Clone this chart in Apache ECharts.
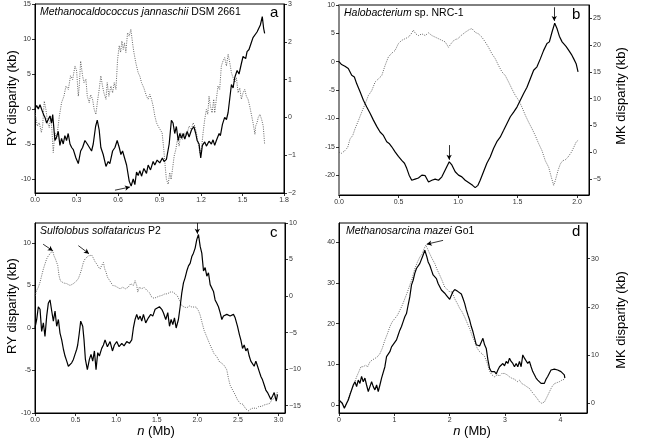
<!DOCTYPE html>
<html><head><meta charset="utf-8">
<script src="https://cdn.jsdelivr.net/npm/echarts@6/dist/echarts.min.js"></script>
<style>html,body{margin:0;padding:0;background:#fff}#c{width:648px;height:445px}</style>
</head><body><div id="c"></div>
<script>
// ---- Panel a: Methanocaldococcus jannaschii (RY left axis, MK right axis)
const aRY = [[0,0],[0.012,0.5],[0.024,0],[0.036,0.6],[0.06,-0.7],[0.072,-1.2],[0.084,-2],[0.096,-1.5],[0.108,-1],[0.12,-2],[0.128,-0.8],[0.144,-4.5],[0.156,-4],[0.168,-3.2],[0.18,-5.2],[0.192,-4.2],[0.204,-5],[0.216,-3.8],[0.228,-4.5],[0.24,-3.5],[0.253,-5],[0.265,-5.5],[0.277,-5.8],[0.296,-7],[0.313,-7.8],[0.33,-6],[0.344,-5.5],[0.361,-4.5],[0.378,-5],[0.392,-4.8],[0.409,-6],[0.421,-5],[0.438,-2.5],[0.45,-1.6],[0.464,-3],[0.476,-5.5],[0.493,-6.5],[0.513,-8.2],[0.529,-7.5],[0.541,-7.8],[0.561,-6],[0.578,-5.5],[0.594,-4.5],[0.609,-5.5],[0.621,-6.5],[0.633,-6],[0.645,-5.8],[0.662,-8],[0.681,-10.3],[0.695,-11],[0.71,-10],[0.722,-10.8],[0.734,-9],[0.746,-9.5],[0.758,-8.8],[0.77,-9.6],[0.787,-8.5],[0.806,-9.2],[0.818,-8],[0.835,-8.7],[0.854,-7.5],[0.866,-8],[0.883,-7.3],[0.902,-7.7],[0.921,-7],[0.933,-7.5],[0.95,-7.2],[0.97,-5],[0.986,-1.6],[0.998,-2],[1.01,-3.5],[1.022,-2.5],[1.035,-4.5],[1.047,-3.5],[1.059,-4.2],[1.071,-3.5],[1.083,-4.3],[1.1,-3.2],[1.114,-4],[1.131,-3],[1.148,-2.5],[1.162,-3.5],[1.172,-4.5],[1.186,-5],[1.198,-7],[1.21,-5.2],[1.227,-4.7],[1.239,-5.3],[1.258,-4.6],[1.275,-5],[1.287,-4.4],[1.299,-5.2],[1.311,-4.5],[1.331,-3.5],[1.34,-3.8],[1.355,-2.2],[1.371,-1.2],[1.384,-1.5],[1.396,-0.5],[1.408,1.5],[1.42,3.5],[1.432,3],[1.444,4.5],[1.461,5.5],[1.475,5],[1.492,6.5],[1.504,7.5],[1.523,7.2],[1.533,8.2],[1.547,8.5],[1.564,9.5],[1.576,10.2],[1.588,10],[1.605,11],[1.619,10.8],[1.629,12],[1.643,13.2],[1.653,11.5],[1.66,10.8]];
const aMK = [[0,0.12],[0.017,-0.23],[0.031,-0.14],[0.046,-0.4],[0.055,-0.23],[0.067,0.43],[0.079,0.21],[0.091,-0.14],[0.103,-0.27],[0.113,0.03],[0.122,-0.32],[0.132,-0.93],[0.144,-0.4],[0.156,-0.58],[0.176,0.03],[0.192,0.39],[0.209,0.56],[0.224,0.83],[0.241,0.74],[0.257,1.1],[0.272,1.0],[0.289,1.36],[0.301,1.23],[0.313,0.56],[0.32,0.83],[0.33,1.49],[0.344,1.1],[0.354,0.92],[0.368,1.01],[0.378,0.56],[0.392,0.39],[0.402,0.6],[0.416,0.48],[0.428,0.21],[0.44,0.08],[0.452,0.43],[0.464,0.74],[0.476,1.1],[0.488,0.83],[0.498,0.65],[0.513,0.48],[0.522,0.92],[0.534,0.56],[0.549,0.83],[0.561,0.65],[0.573,0.92],[0.585,0.74],[0.597,1.53],[0.609,1.9],[0.619,1.72],[0.628,2.02],[0.638,1.8],[0.647,1.97],[0.657,1.72],[0.669,2.24],[0.681,2.15],[0.693,2.33],[0.705,1.97],[0.715,1.72],[0.729,1.44],[0.746,1.18],[0.758,1.09],[0.77,0.92],[0.787,0.78],[0.806,0.56],[0.818,0.48],[0.83,0.61],[0.842,0.48],[0.854,0.3],[0.866,0.04],[0.878,-0.14],[0.89,-0.23],[0.902,-0.27],[0.919,-0.41],[0.931,-0.85],[0.941,-1.29],[0.95,-1.64],[0.963,-1.77],[0.974,-1.46],[0.984,-1.64],[0.994,-1.37],[1.006,-1.02],[1.018,-0.85],[1.03,-0.58],[1.042,-0.76],[1.054,-0.41],[1.066,-0.58],[1.083,-0.41],[1.095,-0.49],[1.114,-0.23],[1.131,-0.32],[1.143,-0.14],[1.155,-0.23],[1.167,-0.41],[1.179,-0.67],[1.191,-0.93],[1.203,-0.85],[1.215,-0.41],[1.227,-0.05],[1.239,0.21],[1.249,0.08],[1.258,0.56],[1.268,0.3],[1.28,0.12],[1.292,0.48],[1.299,0.12],[1.311,0.48],[1.323,0.83],[1.335,0.74],[1.347,1.36],[1.359,1.49],[1.371,1.58],[1.384,1.36],[1.396,1.67],[1.408,1.45],[1.42,1.18],[1.432,1.14],[1.444,0.92],[1.456,1.05],[1.468,0.65],[1.48,0.78],[1.492,0.48],[1.504,0.65],[1.516,0.74],[1.528,0.56],[1.54,0.48],[1.552,0.3],[1.564,0.08],[1.576,-0.14],[1.59,-0.45],[1.595,-0.23],[1.605,-0.14],[1.614,0],[1.626,0.08],[1.638,-0.05],[1.65,-0.23],[1.66,-0.71]];
// ---- Panel b: Halobacterium sp. NRC-1
const bRY = [[0,0],[0.022,-0.5],[0.05,-0.8],[0.078,-1.2],[0.107,-2.4],[0.129,-2.7],[0.149,-3.9],[0.177,-5.3],[0.205,-6.8],[0.233,-8],[0.261,-9.1],[0.289,-10.3],[0.317,-11.4],[0.345,-12.4],[0.373,-13],[0.401,-14.1],[0.421,-14.4],[0.443,-15],[0.471,-15.9],[0.499,-16.7],[0.527,-17.4],[0.55,-17.9],[0.569,-18.8],[0.589,-20],[0.611,-20.9],[0.639,-20.7],[0.667,-20.5],[0.696,-20],[0.724,-20.1],[0.752,-21.2],[0.78,-20.9],[0.808,-20.7],[0.836,-20.9],[0.864,-20.3],[0.892,-19.1],[0.926,-17.65],[0.948,-18.2],[0.976,-19.4],[1.004,-20],[1.032,-20.3],[1.06,-20.9],[1.088,-21.3],[1.122,-21.8],[1.144,-22.2],[1.167,-21.8],[1.186,-20.9],[1.214,-19.4],[1.242,-17.9],[1.27,-16.8],[1.298,-15.3],[1.326,-14.1],[1.354,-13.3],[1.383,-12.1],[1.411,-10.9],[1.439,-9.7],[1.467,-8.9],[1.495,-8],[1.523,-6.8],[1.551,-5.6],[1.579,-4.5],[1.607,-3],[1.635,-1.5],[1.663,-0.9],[1.691,0.5],[1.719,2],[1.747,3.2],[1.767,3.5],[1.789,5.2],[1.812,6.8],[1.832,5.8],[1.851,4.5],[1.874,3.5],[1.888,3.6],[1.907,2.7],[1.93,2],[1.952,1.3],[1.972,0.5],[1.992,-0.35],[2.008,-1.8]];
const bMK = [[0,0],[0.022,-0.2],[0.05,0.3],[0.073,0.9],[0.093,2.5],[0.115,3.1],[0.135,4.4],[0.163,5.9],[0.191,7.5],[0.219,9],[0.247,10.6],[0.275,11.5],[0.303,13.1],[0.331,13.7],[0.359,14.3],[0.387,16.2],[0.415,17.8],[0.443,18.5],[0.471,19],[0.499,20.3],[0.527,20.9],[0.555,21.2],[0.583,21.5],[0.606,22.1],[0.625,22.8],[0.645,22.1],[0.667,21.8],[0.696,22.1],[0.724,21.8],[0.752,22.3],[0.78,21.8],[0.808,21.5],[0.836,21.2],[0.864,20.9],[0.892,20.6],[0.92,19.6],[0.942,20.3],[0.97,21],[0.998,21.2],[1.026,21.8],[1.06,22.4],[1.094,22.9],[1.116,23.1],[1.144,22.4],[1.172,22.1],[1.2,21.5],[1.228,20.6],[1.256,19.6],[1.284,18.4],[1.312,17.5],[1.34,16.2],[1.369,15],[1.397,14.3],[1.425,13.1],[1.453,11.8],[1.481,10.6],[1.509,9.7],[1.537,8.4],[1.565,6.9],[1.593,5.6],[1.621,4.4],[1.649,3.1],[1.677,1.6],[1.705,0.3],[1.733,-1.6],[1.761,-2.8],[1.784,-4.7],[1.803,-6.2],[1.817,-5.3],[1.84,-3.4],[1.859,-2.2],[1.879,-1.6],[1.902,-1.4],[1.924,-0.9],[1.952,0],[1.972,0.9],[1.992,1.9],[2.008,2.2]];
// ---- Panel c: Sulfolobus solfataricus P2
const cRY = [[0,0],[0.021,1],[0.041,2.5],[0.062,2.2],[0.082,-0.4],[0.103,0.6],[0.123,-1],[0.144,1.4],[0.164,2.9],[0.185,3.3],[0.206,2],[0.226,0.8],[0.247,2],[0.267,0.2],[0.288,1],[0.308,-0.6],[0.329,-1.4],[0.35,-2.5],[0.37,-3.3],[0.391,-3.9],[0.411,-4.5],[0.432,-4.7],[0.452,-4.1],[0.473,-3.7],[0.493,-3.1],[0.514,-2.5],[0.526,-2],[0.543,-0.8],[0.563,0.8],[0.588,0.2],[0.604,-1.4],[0.621,-3.7],[0.645,-4.9],[0.67,-3.7],[0.69,-3.1],[0.711,-3.9],[0.732,-2.7],[0.752,-4.9],[0.773,-2.9],[0.793,-3.3],[0.822,-2.4],[0.843,-2],[0.863,-1.4],[0.892,-2.2],[0.925,-1.6],[0.954,-2.7],[0.978,-2],[1.007,-1.6],[1.036,-2.2],[1.069,-1.8],[1.097,-2.1],[1.13,-1.6],[1.163,-1.8],[1.192,-1.4],[1.212,0],[1.233,1],[1.253,1.6],[1.274,1],[1.295,1.4],[1.315,0.8],[1.336,1.6],[1.364,0.6],[1.397,1.2],[1.426,1.6],[1.451,1.4],[1.48,2.2],[1.5,2],[1.533,2.5],[1.562,2.2],[1.582,1.8],[1.611,1],[1.636,1.8],[1.657,0.2],[1.677,1],[1.698,0.4],[1.718,1.2],[1.739,0],[1.767,1],[1.788,2.5],[1.808,4.1],[1.829,5.3],[1.849,5.9],[1.87,6.7],[1.891,7.3],[1.911,7.6],[1.932,8.4],[1.952,8.8],[1.973,9.4],[1.993,10.4],[2.014,11],[2.035,9.6],[2.055,8.8],[2.076,6.7],[2.096,7.1],[2.117,6.1],[2.137,6.5],[2.158,5.1],[2.178,4.9],[2.199,4.3],[2.219,3.3],[2.24,2.9],[2.26,2.5],[2.281,1.8],[2.302,1],[2.322,1.4],[2.343,1.2],[2.363,1.6],[2.404,1.4],[2.445,1.6],[2.466,1.2],[2.487,1],[2.495,0.2],[2.519,-0.8],[2.536,-1.4],[2.557,-2.4],[2.577,-2],[2.598,-2.7],[2.618,-2.4],[2.639,-3.3],[2.659,-3.9],[2.68,-3.7],[2.7,-4.5],[2.721,-3.9],[2.742,-4.5],[2.762,-5.1],[2.783,-5.7],[2.803,-6.1],[2.824,-6.7],[2.844,-7.3],[2.865,-7.6],[2.885,-7.8],[2.906,-8.4],[2.927,-8],[2.947,-7.6],[2.972,-8.6],[2.988,-7.8]];
const cMK = [[0,0],[0.021,0.8],[0.041,1.2],[0.062,1.9],[0.082,2.8],[0.103,3.7],[0.123,4.4],[0.144,5.1],[0.164,5.5],[0.185,5.8],[0.206,6],[0.218,6.2],[0.234,5.5],[0.251,5.1],[0.267,4.9],[0.28,4.2],[0.296,2.8],[0.312,2.1],[0.333,1.9],[0.35,1.8],[0.37,1.9],[0.391,1.7],[0.411,1.5],[0.432,1.45],[0.452,1.5],[0.473,1.7],[0.493,1.9],[0.514,2.1],[0.534,2.4],[0.555,3],[0.575,3.7],[0.596,4.6],[0.617,5.1],[0.637,5.3],[0.658,5.5],[0.678,5.4],[0.699,5.6],[0.719,5.2],[0.74,4.7],[0.76,4.4],[0.781,4],[0.801,3.7],[0.822,4.2],[0.843,4.6],[0.859,3.7],[0.875,3.3],[0.892,2.6],[0.912,2.4],[0.933,1.9],[0.958,1.45],[0.986,1.4],[1.015,1.2],[1.048,1],[1.081,1.2],[1.114,1],[1.147,1.2],[1.18,1.7],[1.212,1.45],[1.233,2.1],[1.253,1.45],[1.266,0.55],[1.286,1.2],[1.315,1],[1.344,1.2],[1.377,0.8],[1.41,0.45],[1.439,-0.15],[1.467,-0.3],[1.5,-0.15],[1.533,0],[1.566,0.1],[1.599,0.3],[1.632,0.3],[1.664,0.55],[1.697,0.55],[1.73,0.3],[1.755,0],[1.78,-0.6],[1.808,-1.3],[1.837,-1.5],[1.87,-1.6],[1.903,-1.35],[1.932,-1.5],[1.952,-1.3],[1.985,-1.5],[2.014,-2],[2.035,-2.6],[2.055,-3.5],[2.084,-4.7],[2.117,-5.6],[2.15,-6.5],[2.178,-7.2],[2.207,-7.9],[2.24,-8.3],[2.273,-9],[2.302,-9.2],[2.331,-9.5],[2.363,-10.1],[2.384,-11.3],[2.404,-12.2],[2.437,-12.9],[2.466,-13.5],[2.495,-14.2],[2.528,-14.7],[2.561,-14.8],[2.594,-15.4],[2.627,-15.7],[2.659,-15.45],[2.692,-15.3],[2.725,-15.4],[2.758,-15.1],[2.791,-15.1],[2.824,-14.9],[2.857,-14.8],[2.89,-14.7],[2.919,-14.2],[2.947,-14],[2.972,-13.5],[2.988,-13.1]];
// ---- Panel d: Methanosarcina mazei Go1
const dRY = [[0,1.2],[0.036,0.8],[0.06,0.4],[0.096,-0.8],[0.138,0.4],[0.168,1.2],[0.198,2.5],[0.228,3.7],[0.258,4.9],[0.288,5.7],[0.318,4.5],[0.348,6.1],[0.378,5.3],[0.408,7],[0.438,5.7],[0.468,6.6],[0.498,4.9],[0.529,3.3],[0.559,4.5],[0.589,5.7],[0.619,4.5],[0.649,3.7],[0.679,4.9],[0.709,3.3],[0.739,4.9],[0.769,6.6],[0.799,7],[0.829,9.4],[0.859,11.9],[0.889,12.3],[0.919,13.1],[0.949,14.3],[0.997,15.2],[1.039,16],[1.069,17.2],[1.099,18.4],[1.129,19.3],[1.159,20.5],[1.189,21.7],[1.219,22.5],[1.249,24.6],[1.279,26.6],[1.309,29.5],[1.339,30.7],[1.369,32.4],[1.399,33.6],[1.429,34],[1.459,34.8],[1.489,35.2],[1.52,36.9],[1.55,38.1],[1.568,38.5],[1.586,36.5],[1.61,35.2],[1.64,34.4],[1.67,33.2],[1.7,32],[1.73,31.6],[1.76,31.1],[1.79,29.9],[1.82,29.1],[1.85,28.3],[1.88,27.9],[1.91,27.5],[1.94,27],[1.97,26.6],[2.0,26],[2.03,27],[2.06,27.9],[2.09,28.4],[2.12,28.1],[2.15,27.9],[2.18,27.6],[2.21,27.3],[2.24,26.2],[2.27,25],[2.3,23.4],[2.33,22.1],[2.36,20.9],[2.39,19.3],[2.42,18],[2.45,16.4],[2.48,14.8],[2.51,15.2],[2.54,14.5],[2.57,14.3],[2.6,16.4],[2.63,14.8],[2.66,13.9],[2.69,11.1],[2.72,9],[2.75,8.2],[2.78,7.8],[2.81,8.2],[2.84,7.6],[2.87,8.6],[2.9,9.4],[2.93,9],[2.96,10.2],[2.99,9.6],[3.02,10.7],[3.05,10.2],[3.08,11.5],[3.11,10.7],[3.14,10.2],[3.17,9.4],[3.2,10.2],[3.23,9.4],[3.26,10.7],[3.29,9.4],[3.32,12.3],[3.35,11.5],[3.38,11.1],[3.41,10.2],[3.44,10.7],[3.47,9.4],[3.5,8.2],[3.53,7.4],[3.56,6.6],[3.59,6.1],[3.62,5.7],[3.65,5.3],[3.68,5.7],[3.71,5.3],[3.74,6.3],[3.77,7],[3.8,7.8],[3.83,8.6],[3.86,9],[3.89,8.8],[3.92,9],[3.95,8.6],[3.98,9],[4.01,8.2],[4.04,8.6],[4.07,7.4],[4.08,6.6]];
const dMK = [[0,0.7],[0.048,0],[0.096,-1],[0.138,0],[0.18,1.4],[0.228,2.8],[0.276,4.1],[0.318,5.5],[0.36,6.6],[0.396,7.6],[0.438,7.6],[0.48,7.9],[0.517,7.6],[0.559,8.6],[0.601,9],[0.649,9.3],[0.697,9.7],[0.739,10.3],[0.781,11.4],[0.829,13.1],[0.877,14.5],[0.919,15.9],[0.961,16.9],[1.009,17.6],[1.057,18.3],[1.099,19.3],[1.141,20.3],[1.189,21.7],[1.237,23.1],[1.279,24.5],[1.321,25.9],[1.369,27.9],[1.417,29.3],[1.459,30.3],[1.502,31],[1.538,32.1],[1.568,32.8],[1.598,32.1],[1.64,31],[1.682,30],[1.73,29],[1.778,27.6],[1.82,26.6],[1.862,25.5],[1.91,24.1],[1.958,23.6],[2.0,23.1],[2.042,23.1],[2.09,21.7],[2.138,20.7],[2.18,19.7],[2.222,19],[2.27,17.9],[2.318,16.6],[2.36,15.5],[2.402,14.1],[2.45,12.8],[2.498,11.4],[2.541,10.7],[2.583,10.3],[2.631,9.7],[2.679,8.3],[2.721,6.6],[2.763,5.9],[2.811,5.5],[2.859,5.9],[2.901,5.7],[2.943,6.2],[2.991,6.2],[3.039,5.9],[3.081,5.5],[3.123,5.2],[3.171,5],[3.219,4.5],[3.261,4.8],[3.303,4.1],[3.351,3.8],[3.399,3.4],[3.441,3.1],[3.483,2.4],[3.532,1.7],[3.58,1],[3.622,0.3],[3.664,0],[3.712,0.3],[3.76,1.4],[3.802,2.4],[3.844,3.4],[3.892,4.1],[3.94,4.3],[3.982,4.5],[4.024,4.8],[4.072,5]];

// ---- tick values
const xTicksA = [0,0.3,0.6,0.9,1.2,1.5,1.8];
const xTicksB = [0,0.5,1.0,1.5,2.0];
const xTicksC = [0,0.5,1.0,1.5,2.0,2.5,3.0];
const xTicksD = [0,1,2,3,4];
const yTicksAL = [-10,-5,0,5,10,15], yTicksAR = [-2,-1,0,1,2,3];
const yTicksBL = [-20,-15,-10,-5,0,5,10], yTicksBR = [-5,0,5,10,15,20,25];
const yTicksCL = [-10,-5,0,5,10], yTicksCR = [-15,-10,-5,0,5,10];
const yTicksDL = [0,10,20,30,40], yTicksDR = [0,10,20,30];

const FONT = 'Liberation Sans, Arial, sans-serif';
const LAB = {fontSize:7, color:'#333', fontFamily:FONT};

function xAx(gi, min, max, ticks, dec){
  return {type:'value', gridIndex:gi, min:min, max:max,
    axisLine:{show:true, onZero:false, lineStyle:{color:'#000', width:1}},
    axisTick:{show:true, length:3, customValues:ticks, lineStyle:{color:'#000', width:0.8}},
    axisLabel:Object.assign({customValues:ticks, margin:4, formatter:v=>Number(v).toFixed(dec)}, LAB),
    splitLine:{show:false}};
}
function yAx(gi, min, max, ticks, pos, minus, extraLine){
  return {type:'value', gridIndex:gi, position:pos, min:min, max:max,
    axisLine:{show:true, onZero:false, lineStyle:Object.assign({color:'#000', width:1}, extraLine||{})},
    axisTick:{show:true, length:3, customValues:ticks, lineStyle:{color:'#000', width:0.8}},
    axisLabel:Object.assign({customValues:ticks, margin:4, formatter:v=>String(v).replace('-', minus)}, LAB),
    splitLine:{show:false}};
}
const solid = {color:'#000', width:1.2, type:'solid'};
const dotted = {color:'#555', width:0.9, type:[1,1.3]};
function arrows(pairs){
  return {silent:true, symbol:['none','arrow'], symbolSize:[4,5], label:{show:false},
    lineStyle:{color:'#000', width:0.8, type:'solid'}, animation:false,
    data: pairs.map(p=>[{coord:p[0]},{coord:p[1]}])};
}
function ser(data, xi, yi, style, ml){
  const s = {type:'line', xAxisIndex:xi, yAxisIndex:yi, data:data, showSymbol:false, symbol:'none',
    lineStyle:style, z: style===solid?3:2, silent:true};
  if (ml) s.markLine = ml;
  return s;
}
const gridBase = {show:true, borderColor:'#000', borderWidth:1, containLabel:false};

const chart = echarts.init(document.getElementById('c'), null, {renderer:'canvas'});
chart.setOption({
  animation:false,
  backgroundColor:'#fff',
  grid:[
    Object.assign({left:35, top:4, width:249, height:189}, gridBase),
    Object.assign({left:339, top:5, width:250, height:190}, gridBase),
    Object.assign({left:35, top:223, width:250, height:190}, gridBase),
    Object.assign({left:339, top:223, width:248, height:190}, gridBase)
  ],
  xAxis:[
    xAx(0, 0, 1.8, xTicksA, 1),
    xAx(1, 0, 2.1, xTicksB, 1),
    xAx(2, 0, 3.08, xTicksC, 1),
    xAx(3, 0, 4.48, xTicksD, 0)
  ],
  yAxis:[
    yAx(0, -12, 15, yTicksAL, 'left', '-'),
    yAx(0, -2, 3, yTicksAR, 'right', '\u2212'),
    yAx(1, -23.5, 10, yTicksBL, 'left', '-', {color:'#888', width:2}),
    yAx(1, -8, 27.5, yTicksBR, 'right', '\u2212'),
    yAx(2, -10, 12.35, yTicksCL, 'left', '-'),
    yAx(2, -16, 10, yTicksCR, 'right', '\u2212'),
    yAx(3, -2, 44.8, yTicksDL, 'left', '-'),
    yAx(3, -2, 37.4, yTicksDR, 'right', '\u2212')
  ],
  series:[
    ser(aMK, 0, 1, dotted),
    ser(aRY, 0, 0, solid, arrows([[[0.578,-11.6],[0.686,-11.15]]])),
    ser(bMK, 1, 3, dotted),
    ser(bRY, 1, 2, solid, arrows([[[0.925,-14.7],[0.925,-17.3]],[[1.808,9.6],[1.808,7.2]]])),
    ser(cMK, 2, 5, dotted, arrows([[[0.10,7.1],[0.22,6.2]],[[0.534,6.9],[0.665,5.8]]])),
    ser(cRY, 2, 4, solid, arrows([[[2.0,12.35],[2.0,11.1]]])),
    ser(dMK, 3, 7, dotted, arrows([[[1.88,33.8],[1.585,33.0]]])),
    ser(dRY, 3, 6, solid)
  ],
  graphic:[
    {type:'text', left:40, top:7, style:{text:'{i|Methanocaldococcus jannaschii} DSM 2661', font:'10.5px '+FONT, fill:'#000', rich:{i:{fontStyle:'italic', fontSize:10.5, fontFamily:FONT}}}},
    {type:'text', left:344, top:8, style:{text:'{i|Halobacterium} sp. NRC-1', font:'10.5px '+FONT, fill:'#000', rich:{i:{fontStyle:'italic', fontSize:10.5, fontFamily:FONT}}}},
    {type:'text', left:40, top:226, style:{text:'{i|Sulfolobus solfataricus} P2', font:'10.5px '+FONT, fill:'#000', rich:{i:{fontStyle:'italic', fontSize:10.5, fontFamily:FONT}}}},
    {type:'text', left:346, top:226, style:{text:'{i|Methanosarcina mazei} Go1', font:'10.5px '+FONT, fill:'#000', rich:{i:{fontStyle:'italic', fontSize:10.5, fontFamily:FONT}}}},
    {type:'text', left:270, top:5, style:{text:'a', font:'15px '+FONT, fill:'#000'}},
    {type:'text', left:572, top:7, style:{text:'b', font:'15px '+FONT, fill:'#000'}},
    {type:'text', left:270, top:225, style:{text:'c', font:'15px '+FONT, fill:'#000'}},
    {type:'text', left:572, top:224, style:{text:'d', font:'15px '+FONT, fill:'#000'}},
    {type:'text', x:12, y:98, rotation:Math.PI/2, style:{text:'RY disparity (kb)', font:'13px '+FONT, fill:'#000', align:'center', verticalAlign:'middle'}},
    {type:'text', x:12, y:306, rotation:Math.PI/2, style:{text:'RY disparity (kb)', font:'13px '+FONT, fill:'#000', align:'center', verticalAlign:'middle'}},
    {type:'text', x:621, y:96, rotation:Math.PI/2, style:{text:'MK disparity (kb)', font:'13px '+FONT, fill:'#000', align:'center', verticalAlign:'middle'}},
    {type:'text', x:621, y:320, rotation:Math.PI/2, style:{text:'MK disparity (kb)', font:'13px '+FONT, fill:'#000', align:'center', verticalAlign:'middle'}},
    {type:'text', x:156, y:431, style:{text:'{i|n} (Mb)', font:'13px '+FONT, fill:'#000', align:'center', verticalAlign:'middle', rich:{i:{fontStyle:'italic', fontSize:13, fontFamily:FONT}}}},
    {type:'text', x:472, y:431, style:{text:'{i|n} (Mb)', font:'13px '+FONT, fill:'#000', align:'center', verticalAlign:'middle', rich:{i:{fontStyle:'italic', fontSize:13, fontFamily:FONT}}}}
  ]
});
</script></body></html>
